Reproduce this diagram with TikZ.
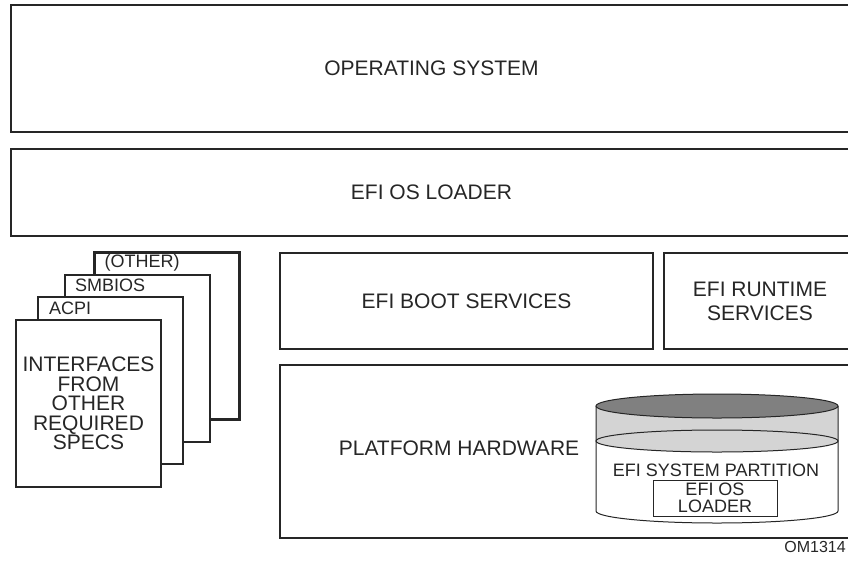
\documentclass[tikz,border=0pt]{standalone}
\usepackage{fontspec}
\setmainfont{Liberation Sans}
\tikzset{
  box/.style={draw=black!85, line width=1.25pt, rectangle, align=center,
    text=black!85, font=\fontsize{10.5}{12}\selectfont},
  page/.style={box, fill=white, minimum width=72.5pt, minimum height=83.5pt, inner sep=0pt},
  tab/.style={anchor=west, inner sep=0pt, text=black!85, font=\fontsize{9}{10}\selectfont},
  thin/.style={draw=black!85, line width=0.5pt}
}

\begin{document}
\begin{tikzpicture}[x=0.5pt, y=0.5pt]
    \useasboundingbox (0,0) rectangle (848,-575);
    % layers
    \node[box, minimum width=420.5pt, minimum height=63.5pt] (os) at (431.5,-68.5) {OPERATING SYSTEM};
    \node[box, minimum width=420.5pt, minimum height=43.5pt] (ldr) at (431.5,-192.5) {EFI OS LOADER};
    \node[box, minimum width=186.5pt, minimum height=48pt] (bs) at (466.5,-301) {EFI BOOT SERVICES};
    \node[box, minimum width=96pt, minimum height=48pt] (rt) at (760,-301) {EFI RUNTIME\\SERVICES};
    \node[box, minimum width=286pt, minimum height=86.5pt] (hw) at (566,-451.5) {};
    \node[text=black!85, font=\fontsize{10.5}{12}\selectfont] (hwtxt) at (459,-448) {PLATFORM HARDWARE};
    % stacked specs
    \node[page] (other) at (167,-336) {};
    \node[tab] (othertxt) at ([shift={(11,-12)}]other.north west) {(OTHER)};
    \node[page] (smbios) at (137.5,-358.5) {};
    \node[tab] (smbiostxt) at ([shift={(11,-12)}]smbios.north west) {SMBIOS};
    \node[page] (acpi) at (110.5,-380.5) {};
    \node[tab] (acpitxt) at ([shift={(12,-13)}]acpi.north west) {ACPI};
    \node[page, font=\fontsize{10.5}{9.75}\selectfont] (ifc) at (88.5,-403.5) {INTERFACES\\FROM\\OTHER\\REQUIRED\\SPECS};
    % partition
    \fill[white] (596,-406) -- (596,-511) arc[start angle=180, end angle=360, x radius=121, y radius=12] -- (838,-406) -- cycle;
    \fill[black!17] (596,-406) -- (596,-441) arc[start angle=180, end angle=360, x radius=121, y radius=11] -- (838,-406) -- cycle;
    \draw[thin] (596,-406) -- (596,-511) arc[start angle=180, end angle=360, x radius=121, y radius=12] -- (838,-406);
    \draw[thin, fill=black!50] (717,-406) ellipse[x radius=121, y radius=12];
    \draw[thin] (717,-441) ellipse[x radius=121, y radius=11];
    \node[text=black!85, font=\fontsize{9}{10}\selectfont] (esp) at (716,-470) {EFI SYSTEM PARTITION};
    \node[thin, minimum width=62pt, minimum height=18pt, inner sep=0pt, align=center,
      text=black!85, font=\fontsize{9}{8.5}\selectfont] (espldr) at (715,-498) {EFI OS\\LOADER};
    \node[anchor=west, inner sep=0pt, text=black!85, font=\fontsize{8}{9}\selectfont] (om) at (784,-547) {OM1314};
\end{tikzpicture}
\end{document}
